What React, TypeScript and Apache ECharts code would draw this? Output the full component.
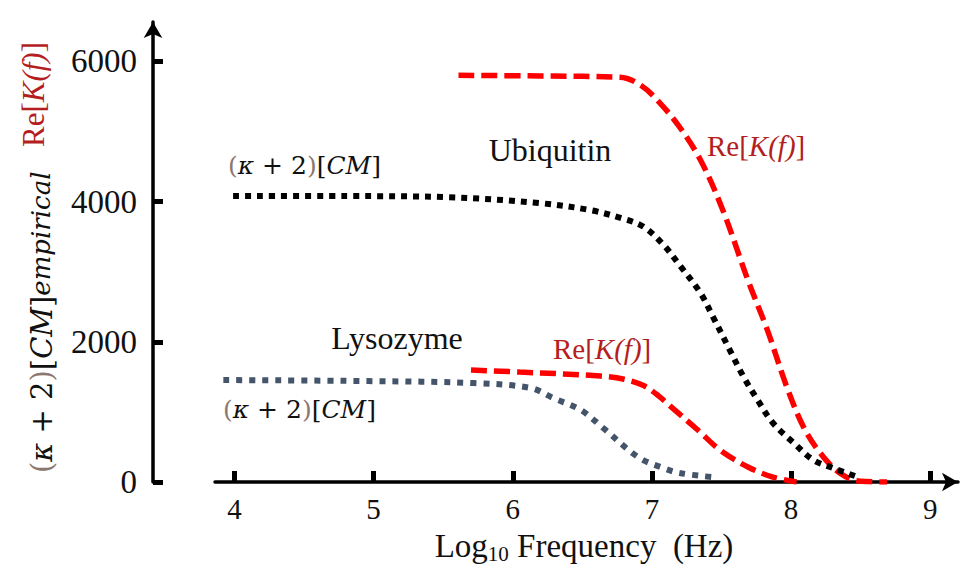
import React, { useEffect, useRef } from "react";
import * as echarts from "echarts";

// Axis ticks
const xTicks = [4, 5, 6, 7, 8, 9];
const yTicks = [0, 2000, 4000, 6000];

// Ubiquitin Re[K(f)] (red dashed)
const ubiReKX = [5.61, 6.2, 6.77, 6.92, 7.06, 7.2, 7.35, 7.51, 7.69, 7.83, 7.97, 8.09, 8.21, 8.35, 8.5, 8.69];
const ubiReKY = [5800, 5790, 5772, 5658, 5401, 5059, 4589, 3876, 2879, 2166, 1354, 784, 413, 128, 10, 0];

// Ubiquitin (kappa+2)[CM] (black dotted)
const ubiCMX = [3.99, 4.8, 5.53, 6.2, 6.56, 6.8, 6.94, 7.08, 7.2, 7.35, 7.44, 7.56, 7.66, 7.76, 7.87, 8.02, 8.16, 8.3, 8.48];
const ubiCMY = [4080, 4078, 4062, 3976, 3876, 3750, 3640, 3390, 3090, 2693, 2351, 1881, 1496, 1169, 841, 556, 314, 200, 71];

// Lysozyme Re[K(f)] (red dashed)
const lysReKX = [5.7, 6.05, 6.63, 6.8, 6.94, 7.05, 7.13, 7.33, 7.49, 7.69, 7.87, 8.04];
const lysReKY = [1596, 1568, 1511, 1465, 1375, 1225, 1085, 741, 456, 214, 71, 0];

// Lysozyme (kappa+2)[CM] (grey dotted)
const lysCMX = [3.92, 4.96, 5.72, 6.13, 6.29, 6.49, 6.65, 6.9, 7.08, 7.2, 7.43];
const lysCMY = [1454, 1439, 1411, 1340, 1197, 1026, 770, 356, 200, 128, 71];

const pairs = (xs: number[], ys: number[]) => xs.map((x, i) => [x, ys[i]]);

const SERIF = "Liberation Serif";
const MATH = "DejaVu Serif";
const RED_TXT = "#B41E1E";
const BROWN = "#8c7770";

const mathRich = (size: number) => ({
  p: { fontFamily: MATH, fontSize: size, fill: BROWN },
  k: { fontFamily: MATH, fontSize: size, fontStyle: "italic", fill: "#111" },
  n: { fontFamily: MATH, fontSize: size, fill: "#111" },
  i: { fontFamily: MATH, fontSize: size, fontStyle: "italic", fill: "#111" },
});
const cmText = "{p|(}{k|κ}{n| + 2}{p|)}{n|[}{i|CM}{n|]}";

const reRich = (size: number) => ({
  r: { fontFamily: SERIF, fontSize: size, fill: RED_TXT },
  ri: { fontFamily: SERIF, fontSize: size, fontStyle: "italic", fill: RED_TXT },
});
const reText = "{r|Re[}{ri|K(f)}{r|]}";

export default function App() {
  const ref = useRef<HTMLDivElement>(null);
  useEffect(() => {
    const chart = echarts.init(ref.current!, null, { renderer: "svg" });
    chart.setOption({
      animation: false,
      backgroundColor: "#fff",
      grid: { left: 215, top: 22, width: 743, height: 460, containLabel: false, outerBoundsMode: "none" },
      xAxis: {
        type: "value",
        min: 3.86,
        max: 9.2,
        axisLine: {
          show: true,
          onZero: false,
          symbol: ["none", "arrow"],
          symbolSize: [14, 16],
          lineStyle: { color: "#000", width: 3.5 },
        },
        axisTick: { show: true, inside: true, length: 11, customValues: xTicks, lineStyle: { color: "#000", width: 5 } },
        axisLabel: {
          customValues: xTicks,
          formatter: (v: number) => String(v),
          fontFamily: SERIF,
          fontSize: 29,
          color: "#111",
          margin: 12,
        },
        splitLine: { show: false },
      },
      yAxis: {
        type: "value",
        min: 0,
        max: 6560,
        position: "left",
        offset: 62,
        axisLine: {
          show: true,
          symbol: ["none", "arrow"],
          symbolSize: [14, 16],
          lineStyle: { color: "#000", width: 3.5 },
        },
        axisTick: { show: true, inside: true, length: 10, customValues: yTicks, lineStyle: { color: "#000", width: 5 } },
        axisLabel: {
          customValues: yTicks,
          formatter: (v: number) => String(v),
          fontFamily: SERIF,
          fontSize: 33,
          color: "#111",
          margin: 16,
        },
        splitLine: { show: false },
      },
      series: [
        {
          type: "line",
          data: pairs(ubiReKX, ubiReKY),
          showSymbol: false,
          smooth: 0.35,
          lineStyle: { color: "#FF0000", width: 5.5, type: [16, 7], cap: "butt" },
        },
        {
          type: "line",
          data: pairs(ubiCMX, ubiCMY),
          showSymbol: false,
          smooth: 0.35,
          lineStyle: { color: "#000000", width: 6, type: [6, 6], cap: "butt" },
        },
        {
          type: "line",
          data: pairs(lysReKX, lysReKY),
          showSymbol: false,
          smooth: 0.35,
          lineStyle: { color: "#FF0000", width: 5.5, type: [16, 7], cap: "butt" },
        },
        {
          type: "line",
          data: pairs(lysCMX, lysCMY),
          showSymbol: false,
          smooth: 0.35,
          lineStyle: { color: "#44546A", width: 6, type: [6, 7], cap: "butt" },
        },
      ],
      graphic: [
        {
          type: "text",
          x: 550,
          y: 150,
          style: { text: "Ubiquitin", fontFamily: SERIF, fontSize: 32, fill: "#111", align: "center", verticalAlign: "middle" },
        },
        {
          type: "text",
          x: 397,
          y: 338,
          style: { text: "Lysozyme", fontFamily: SERIF, fontSize: 32, fill: "#111", align: "center", verticalAlign: "middle" },
        },
        {
          type: "text",
          x: 707,
          y: 146,
          style: { text: reText, rich: reRich(29), align: "left", verticalAlign: "middle" },
        },
        {
          type: "text",
          x: 553,
          y: 349,
          style: { text: reText, rich: reRich(29), align: "left", verticalAlign: "middle" },
        },
        {
          type: "text",
          x: 228,
          y: 165,
          style: { text: cmText, rich: mathRich(25), align: "left", verticalAlign: "middle" },
        },
        {
          type: "text",
          x: 223,
          y: 409,
          style: { text: cmText, rich: mathRich(25), align: "left", verticalAlign: "middle" },
        },
        {
          type: "text",
          x: 584,
          y: 546,
          style: {
            text: "{a|Log}{s|10}{a| Frequency  (Hz)}",
            rich: {
              a: { fontFamily: SERIF, fontSize: 33, fill: "#111", lineHeight: 36 },
              s: { fontFamily: SERIF, fontSize: 21, fill: "#111", lineHeight: 12, verticalAlign: "bottom" },
            },
            align: "center",
            verticalAlign: "middle",
          },
        },
        {
          type: "text",
          x: 42,
          y: 473,
          rotation: Math.PI / 2,
          style: {
            text: cmText + "{sup|empirical}",
            rich: {
              ...mathRich(29),
              sup: { fontFamily: MATH, fontSize: 26, fontStyle: "italic", fill: "#111", lineHeight: 22, verticalAlign: "top" },
            },
            align: "left",
            verticalAlign: "middle",
          },
        },
        {
          type: "text",
          x: 33,
          y: 147,
          rotation: Math.PI / 2,
          style: { text: reText, rich: reRich(31), align: "left", verticalAlign: "middle" },
        },
      ],
    });
    return () => chart.dispose();
  }, []);
  return <div ref={ref} style={{ position: "absolute", left: 0, top: 0, width: 971, height: 565 }} />;
}
